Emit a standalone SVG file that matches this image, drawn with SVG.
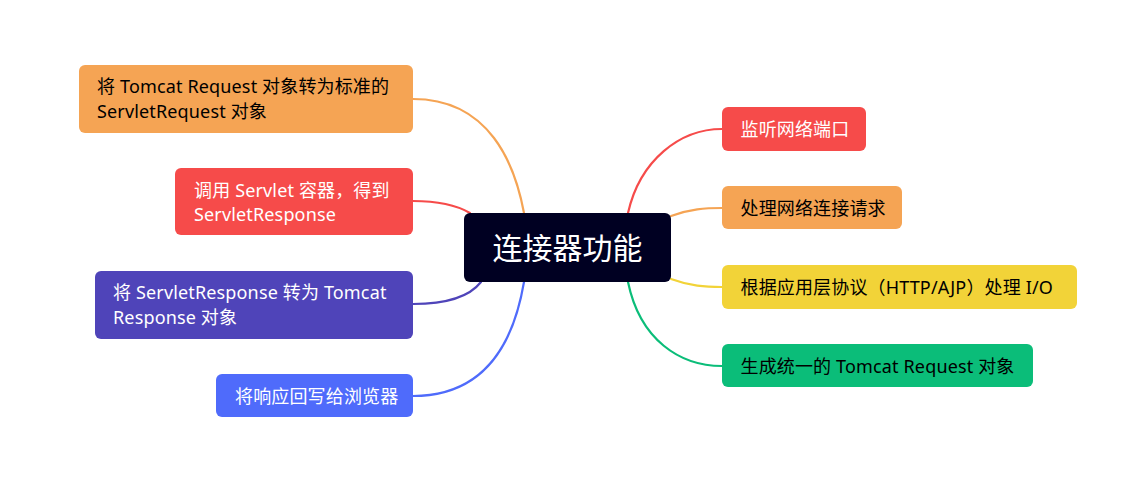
<svg xmlns="http://www.w3.org/2000/svg" width="1132" height="502" viewBox="0 0 1132 502">
<style>
text{font-family:"Noto Sans","Noto Sans CJK SC",sans-serif;font-size:18px;letter-spacing:0.15px}
.w{fill:#ffffff}.k{fill:#000000}
.c{fill:none;stroke-width:2.2;stroke-linecap:round}
</style>
<rect width="1132" height="502" fill="#ffffff"/>
<g id="connectors">
<path class="c" stroke="#F5A454" d="M413,99 C490,99 515,165 524,213"/>
<path class="c" stroke="#F64B4A" d="M413,201 C440,201 458,206 470,213"/>
<path class="c" stroke="#4F44B9" d="M413,304 C450,304 470,296 481,282"/>
<path class="c" stroke="#4F6BFB" d="M413,396 C490,396 515,335 524,282"/>
<path class="c" stroke="#F64B4A" d="M628,213 C640,160 680,129 722,129"/>
<path class="c" stroke="#F5A454" d="M671,216 C690,209 705,208 722,208"/>
<path class="c" stroke="#F2D338" d="M671,279 C690,286 705,287 722,287"/>
<path class="c" stroke="#0BBD79" d="M628,282 C640,340 680,366 722,366"/>
</g>
<g id="center">
<rect x="464" y="213" width="207" height="69" rx="6" fill="#000022"/>
<text x="567.5" y="259" text-anchor="middle" class="w" style="font-size:30px;letter-spacing:0">连接器功能</text>
</g>
<g id="n-left1">
<rect x="79" y="65" width="334" height="68" rx="6" fill="#F5A454"/>
<text class="k" x="97" y="93">将 Tomcat Request 对象转为标准的</text>
<text class="k" x="97" y="117.5">ServletRequest 对象</text>
</g>
<g id="n-left2">
<rect x="175" y="168" width="238" height="67" rx="6" fill="#F64B4A"/>
<text class="w" x="194" y="196.5">调用 Servlet 容器，得到</text>
<text class="w" x="194" y="221">ServletResponse</text>
</g>
<g id="n-left3">
<rect x="95" y="271" width="318" height="68" rx="6" fill="#4F44B9"/>
<text class="w" x="113" y="299">将 ServletResponse 转为 Tomcat</text>
<text class="w" x="113" y="324">Response 对象</text>
</g>
<g id="n-left4">
<rect x="216" y="374" width="197" height="43" rx="6" fill="#4F6BFB"/>
<text class="w" x="235" y="402.5">将响应回写给浏览器</text>
</g>
<g id="n-right1">
<rect x="722" y="107" width="144" height="44" rx="6" fill="#F64B4A"/>
<text class="w" x="740.5" y="136">监听网络端口</text>
</g>
<g id="n-right2">
<rect x="722" y="186" width="180" height="43" rx="6" fill="#F5A454"/>
<text class="k" x="740.5" y="215">处理网络连接请求</text>
</g>
<g id="n-right3">
<rect x="722" y="265" width="355" height="44" rx="6" fill="#F2D338"/>
<text class="k" x="740.5" y="294">根据应用层协议（HTTP/AJP）处理 I/O</text>
</g>
<g id="n-right4">
<rect x="722" y="344" width="311" height="43" rx="6" fill="#0BBD79"/>
<text class="k" x="740.5" y="372.5">生成统一的 Tomcat Request 对象</text>
</g>
</svg>
